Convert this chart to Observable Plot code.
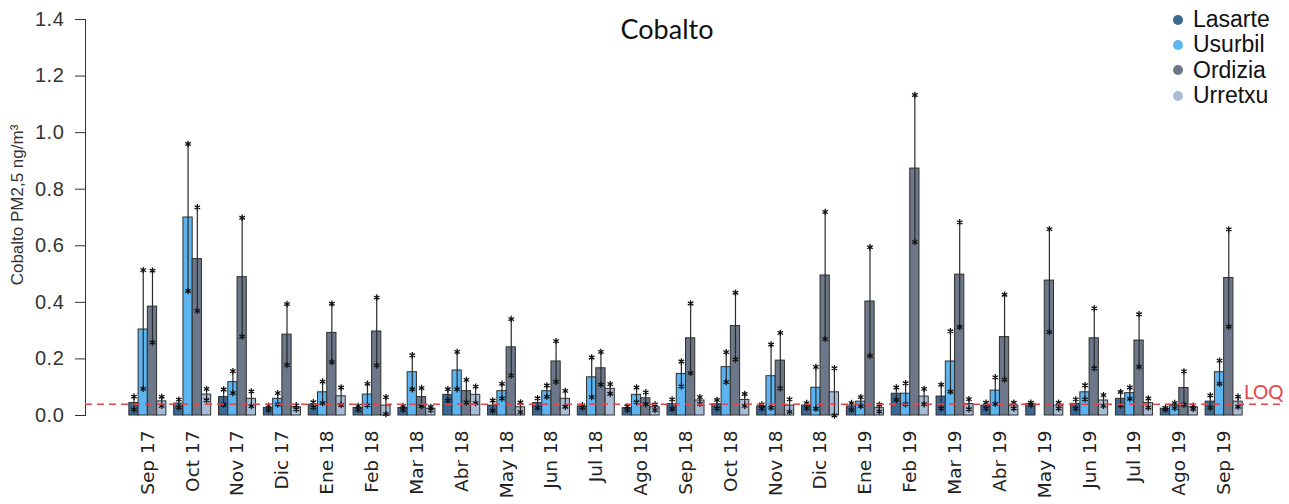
<!DOCTYPE html>
<html>
<head>
<meta charset="utf-8">
<script src="https://cdn.jsdelivr.net/npm/d3@7"></script>
<script src="https://cdn.jsdelivr.net/npm/@observablehq/plot@0.6"></script>
<style>
  html, body { margin: 0; padding: 0; background: #fff; }
  #wrap { position: relative; width: 1289px; height: 504px; }
  #title {
    position: absolute; left: 0; width: 1334px; top: 12px; text-align: center;
    font-family: Lato, "Open Sans", sans-serif; font-size: 27px; color: #111;
  }
  #ylabel { position: absolute; left: 18px; top: 205px; width: 0; height: 0; }
  #ylabel span {
    position: absolute; left: 0; top: 0; white-space: nowrap;
    transform: translate(-50%, -50%) rotate(-90deg);
    font-family: "Liberation Sans", Arial, sans-serif; font-size: 17px; color: #333;
  }
  #legend {
    position: absolute; left: 1173px; top: 7px;
    font-family: "Liberation Sans", Arial, sans-serif; font-size: 23px; color: #111;
  }
  #legend .row { display: flex; align-items: center; height: 25.3px; }
  #legend .dot { width: 10px; height: 10px; border-radius: 50%; margin-right: 10px; }
  svg g[aria-label="x-axis tick label"] text { font-family: "DejaVu Sans", sans-serif; font-size: 18.5px; fill: #222; }
  svg g[aria-label="y-axis tick label"] text { font-family: "Liberation Sans", Arial, sans-serif; font-size: 20px; letter-spacing: 0.6px; fill: #333; }
</style>
</head>
<body>
<div id="wrap">
  <div id="chart"></div>
  <div id="title">Cobalto</div>
  <div id="ylabel"><span>Cobalto PM2,5 ng/m³</span></div>
  <div id="legend"></div>
</div>
<script>
// Monthly PM2.5 cobalt concentrations (ng/m³): mean and standard deviation per station
const months = ["Sep 17","Oct 17","Nov 17","Dic 17","Ene 18","Feb 18","Mar 18","Abr 18","May 18","Jun 18","Jul 18","Ago 18",
                "Sep 18","Oct 18","Nov 18","Dic 18","Ene 19","Feb 19","Mar 19","Abr 19","May 19","Jun 19","Jul 19","Ago 19","Sep 19"];
const stations = ["Lasarte", "Usurbil", "Ordizia", "Urretxu"];
const colors = ["#3d6892", "#5cb5f0", "#6c788a", "#a9bcd5"];

const lasarteMean = [0.044,0.042,0.065,0.027,0.038,0.027,0.027,0.073,0.035,0.044,0.032,0.026,0.040,0.040,0.032,0.035,0.032,0.077,0.067,0.035,0.041,0.041,0.059,0.024,0.049];
const lasarteSd   = [0.023,0.014,0.027,0.008,0.009,0.007,0.007,0.020,0.018,0.017,0.004,0.006,0.017,0.015,0.007,0.009,0.012,0.022,0.042,0.010,0.004,0.016,0.024,0.003,0.022];
const usurbilMean = [0.304,0.700,0.118,0.059,0.082,0.074,0.153,0.159,0.086,0.086,0.135,0.073,0.147,0.171,0.139,0.098,0.049,0.077,0.191,0.088,null,0.082,0.079,0.035,0.153];
const usurbilSd   = [0.210,0.260,0.039,0.020,0.038,0.038,0.060,0.066,0.026,0.020,0.070,0.026,0.044,0.053,0.112,0.074,0.016,0.037,0.107,0.047,null,0.025,0.020,0.009,0.041];
const ordiziaMean = [0.385,0.553,0.489,0.286,0.292,0.297,0.065,0.086,0.241,0.191,0.167,0.061,0.273,0.316,0.194,0.495,0.403,0.873,0.498,0.277,0.477,0.273,0.265,0.097,0.486];
const ordiziaSd   = [0.127,0.183,0.210,0.108,0.103,0.120,0.032,0.040,0.100,0.072,0.058,0.021,0.123,0.118,0.098,0.225,0.192,0.260,0.185,0.150,0.182,0.106,0.093,0.059,0.172];
const urretxuMean = [0.050,0.074,0.059,0.029,0.068,0.035,0.024,0.073,0.029,0.059,0.094,0.029,0.053,0.055,0.035,0.082,0.026,0.067,0.040,0.035,0.035,0.053,0.044,0.029,0.049];
const urretxuSd   = [0.016,0.020,0.026,0.007,0.031,0.030,0.006,0.029,0.017,0.028,0.017,0.010,0.012,0.021,0.022,0.085,0.012,0.027,0.018,0.010,0.010,0.019,0.016,0.006,0.018];

const yTicks = [0, 0.2, 0.4, 0.6, 0.8, 1.0, 1.2, 1.4];
const loq = 0.04;

const means = [lasarteMean, usurbilMean, ordiziaMean, urretxuMean];
const sds = [lasarteSd, usurbilSd, ordiziaSd, urretxuSd];

// one row per month × station
const rows = [];
stations.forEach((s, i) => {
  months.forEach((m, j) => {
    const v = means[i][j];
    if (v == null) return;
    const sd = sds[i][j];
    rows.push({month: m, station: s, value: v, lo: Math.max(0, v - sd), hi: v + sd});
  });
});

// band geometry shared by bars and error bars
const xRange = [121, 1250];
const xPadding = 0.175;
const bw = d3.scaleBand().domain(months).range(xRange).padding(xPadding).bandwidth();
const slot = bw / 4;

const marks = [];
stations.forEach((s, i) => {
  const data = rows.filter(d => d.station === s);
  const off = -bw / 2 + (i + 0.5) * slot;
  marks.push(
    Plot.barY(data, {x: "month", y: "value", fill: colors[i], stroke: "#2e2e2e", strokeWidth: 1,
      insetLeft: i * slot, insetRight: (3 - i) * slot})
  );
  marks.push(
    Plot.ruleX(data, {x: "month", y1: "lo", y2: "hi", dx: off, stroke: "#2a2a2a", strokeWidth: 1.2}),
    Plot.dot(data, {x: "month", y: "hi", dx: off, symbol: "asterisk", r: 3, stroke: "#111", strokeWidth: 1.3}),
    Plot.dot(data, {x: "month", y: "lo", dx: off, symbol: "asterisk", r: 3, stroke: "#111", strokeWidth: 1.3})
  );
});

marks.push(
  Plot.ruleY([loq], {stroke: "#e8434a", strokeWidth: 1.6, strokeDasharray: "7,5"}),
  Plot.text(["LOQ"], {frameAnchor: "right", y: () => loq, dy: -11, dx: -2, textAnchor: "end",
    fill: "#e8434a", fontSize: 19, fontFamily: "Lato, 'Open Sans', sans-serif"})
);

const chart = Plot.plot({
  width: 1289,
  height: 504,
  marginTop: 19,
  marginBottom: 89,
  marginLeft: 85,
  marginRight: 4,
  style: {background: "#fff", color: "#333", fontFamily: "'Liberation Sans', Arial, sans-serif"},
  x: {domain: months, range: xRange, padding: xPadding, round: false, tickRotate: -90, tickSize: 0, tickPadding: 15, label: null},
  y: {domain: [0, 1.4], ticks: yTicks, tickFormat: d3.format(".1f"), tickSize: 10, tickPadding: 11,
      label: null, line: true},
  marks
});
document.getElementById("chart").append(chart);

// legend
const legend = document.getElementById("legend");
stations.forEach((s, i) => {
  const row = document.createElement("div");
  row.className = "row";
  const dot = document.createElement("span");
  dot.className = "dot";
  dot.style.background = colors[i];
  const label = document.createElement("span");
  label.textContent = s;
  row.append(dot, label);
  legend.append(row);
});
</script>
</body>
</html>
